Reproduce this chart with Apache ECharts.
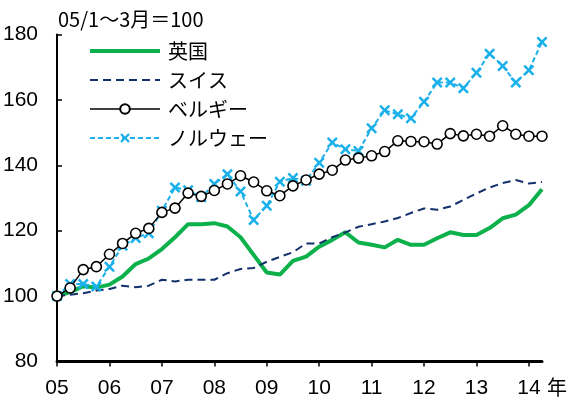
<!DOCTYPE html>
<html><head><meta charset="utf-8">
<script src="https://cdn.jsdelivr.net/npm/echarts@6/dist/echarts.min.js"></script>
<style>html,body{margin:0;padding:0;background:#fff}#c{width:569px;height:400px}</style>
</head><body><div id="c"></div>
<script>
const years = ['05','06','07','08','09','10','11','12','13','14'];
const quarters = ['Q1','Q2','Q3','Q4'];
const yTicks = [80, 100, 120, 140, 160, 180];
const seriesNames = ['英国','スイス','ベルギー','ノルウェー'];
const uk = [100,101.2,103.0,102.6,103.5,106.0,109.8,111.5,114.4,118.0,122.0,122.0,122.3,121.3,118.0,112.6,107.2,106.6,110.8,112.1,115.1,117.2,119.5,116.4,115.7,114.9,117.2,115.7,115.7,117.7,119.5,118.7,118.7,120.8,123.8,124.9,127.8,132.7];
const swiss = [100,100.4,100.9,101.7,102.2,103.2,102.7,103.2,105.0,104.5,105.0,105.0,105.0,107.0,108.3,108.6,110.5,112.0,113.4,116.1,116.1,118.0,119.5,121.2,122.0,122.8,123.9,125.4,126.8,126.4,127.4,129.4,131.4,133.2,134.6,135.5,134.4,134.9];
const belgium = [100,102.5,108.1,109.0,112.8,116.1,119.2,120.7,125.6,126.9,131.5,130.5,132.3,134.3,136.8,134.9,132.2,130.7,133.7,135.5,137.3,138.5,141.6,142.2,142.9,144.2,147.5,147.3,147.2,146.5,149.7,149.0,149.5,148.9,152.1,149.5,148.9,148.9];
const norway = [100,103.7,103.7,102.9,109.0,115.4,117.8,119.2,126.1,133.2,132.4,130.2,134.3,137.3,132.0,123.3,127.6,135.0,136.1,135.3,140.8,147.0,144.9,144.4,151.3,156.8,155.6,154.4,159.4,165.3,165.3,163.6,168.3,174.1,170.4,165.3,169.1,177.7];

const categories = [];
years.forEach(y => quarters.forEach(q => categories.push(y + q)));
const cats = categories.slice(0, uk.length);

const FONT = '"Liberation Sans", "Noto Sans CJK JP", sans-serif';
const CJK = '"Noto Sans CJK JP", sans-serif';
const crossPath = 'path://M0,1.6L1.6,0L5,3.4L8.4,0L10,1.6L6.6,5L10,8.4L8.4,10L5,6.6L1.6,10L0,8.4L3.4,5Z';

const chart = echarts.init(document.getElementById('c'), null, {renderer: 'canvas'});
chart.setOption({
  animation: false,
  backgroundColor: '#fff',
  grid: {left: 56, right: 27, top: 34.5, bottom: 38.5, containLabel: false},
  title: {
    text: '05/1～3月＝100', left: 53, top: 4,
    textStyle: {fontFamily: CJK, fontSize: 20, fontWeight: 'normal', color: '#000'}
  },
  legend: {
    orient: 'vertical', left: 83, top: 36, itemGap: 9,
    itemWidth: 70, itemHeight: 12,
    data: [
      {name: seriesNames[0], itemStyle: {opacity: 0}, lineStyle: {width: 4, color: '#0db14b'}},
      {name: seriesNames[1], itemStyle: {opacity: 0}, lineStyle: {width: 2, color: '#12306b', type: [8, 5]}},
      {name: seriesNames[2], lineStyle: {width: 1.5, color: '#000'}},
      {name: seriesNames[3], lineStyle: {width: 2, color: '#1ab0ea', type: [5, 3]}}
    ],
    textStyle: {fontFamily: CJK, fontSize: 20, color: '#000', padding: [0,0,0,3]}
  },
  xAxis: {
    type: 'category', data: cats, boundaryGap: false,
    axisLine: {lineStyle: {color: '#000', width: 3}},
    axisTick: {show: true, inside: false, length: 5, interval: 3, lineStyle: {color: '#000', width: 1.5}},
    axisLabel: {
      interval: 3, margin: 16, fontFamily: FONT, fontSize: 21, color: '#000',
      formatter: v => v.slice(0, 2)
    },
    splitLine: {show: false}
  },
  yAxis: {
    type: 'value', min: yTicks[0], max: yTicks[yTicks.length - 1], interval: 20,
    axisLine: {show: true, lineStyle: {color: '#000', width: 2}},
    axisTick: {show: true, inside: true, length: 5, lineStyle: {color: '#000', width: 1.5}},
    axisLabel: {margin: 19, fontFamily: FONT, fontSize: 21, color: '#000'},
    splitLine: {show: false}
  },
  graphic: [{
    type: 'text', left: 547, top: 377,
    style: {text: '年', font: '20px "Noto Sans CJK JP"', fill: '#000'}
  }],
  series: [
    {name: seriesNames[0], type: 'line', data: uk, symbol: 'none', z: 2,
     lineStyle: {color: '#0db14b', width: 4}, itemStyle: {color: '#0db14b'}},
    {name: seriesNames[1], type: 'line', data: swiss, symbol: 'none', z: 2,
     lineStyle: {color: '#12306b', width: 2, type: [8, 5]}, itemStyle: {color: '#12306b'}},
    {name: seriesNames[3], type: 'line', data: norway, symbol: crossPath, symbolSize: 11, z: 3,
     showAllSymbol: true,
     lineStyle: {color: '#1ab0ea', width: 2, type: [5, 3]},
     itemStyle: {color: '#1ab0ea', borderWidth: 0}},
    {name: seriesNames[2], type: 'line', data: belgium, symbol: 'circle', symbolSize: 10, z: 4,
     showAllSymbol: true,
     lineStyle: {color: '#000', width: 1.5},
     itemStyle: {color: '#fff', borderColor: '#000', borderWidth: 1.6}}
  ]
});
</script></body></html>
